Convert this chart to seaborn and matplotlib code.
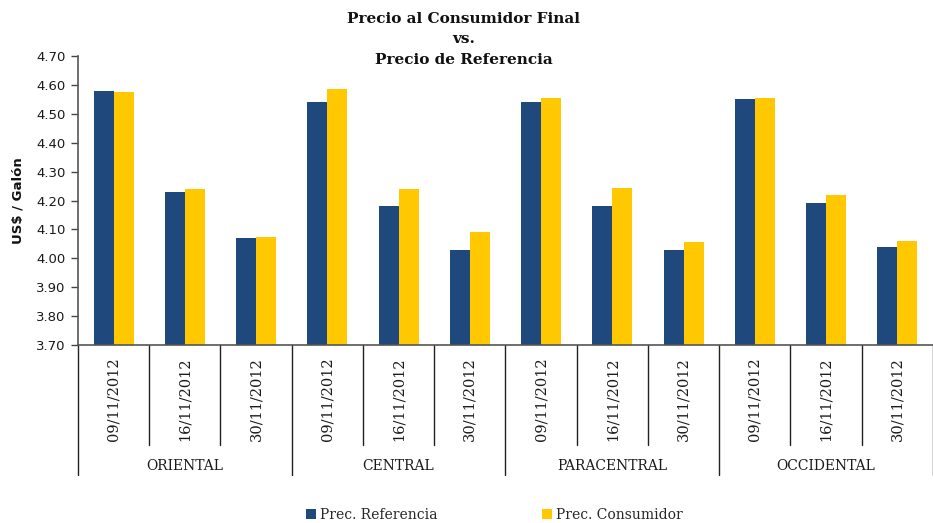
import matplotlib
matplotlib.use("Agg")
import matplotlib.pyplot as plt
import matplotlib.transforms as mtransforms
from matplotlib.patches import Patch
import seaborn as sns
import pandas as pd

regions = ["ORIENTAL", "CENTRAL", "PARACENTRAL", "OCCIDENTAL"]
dates = ["09/11/2012", "16/11/2012", "30/11/2012"]
prec_referencia = [4.58, 4.23, 4.07, 4.54, 4.18, 4.03, 4.54, 4.18, 4.03, 4.55, 4.19, 4.04]
prec_consumidor = [4.575, 4.24, 4.075, 4.585, 4.24, 4.09, 4.555, 4.245, 4.055, 4.555, 4.22, 4.06]
series = ["Prec. Referencia", "Prec. Consumidor"]
colors = ["#1F497D", "#FFC800"]

keys = [f"{r}|{d}" for r in regions for d in dates]
df = pd.DataFrame({
    "key": keys * 2,
    "valor": prec_referencia + prec_consumidor,
    "serie": [series[0]] * len(keys) + [series[1]] * len(keys),
})

sns.set_style("white")
plt.rcParams["font.family"] = ["DejaVu Sans"]

fig = plt.figure(figsize=(9.33, 5.23), dpi=100)
ax = fig.add_axes([0.0836, 0.3403, 0.9164, 0.5526])

sns.barplot(data=df, x="key", y="valor", hue="serie", order=keys,
            hue_order=series, palette=colors, width=0.56, ax=ax,
            legend=False, saturation=1, edgecolor="none")

ax.set_ylim(3.70, 4.70)
ax.set_xlim(-0.5, len(keys) - 0.5)
yt = [3.70 + 0.1 * i for i in range(11)]
ax.set_yticks(yt)
ax.set_yticklabels([f"{v:.2f}" for v in yt], fontsize=9.5, color="#1a1a1a")
ax.tick_params(axis="y", direction="out", length=5, width=1, color="#444444", pad=4, left=True)
ax.set_xticks([])
ax.set_xlabel("")
ax.set_ylabel("US$ / Galón", fontsize=9.5, fontweight="bold", labelpad=8, color="#111111")

for s in ["top", "right"]:
    ax.spines[s].set_visible(False)
for s in ["left", "bottom"]:
    ax.spines[s].set_color("#555555")
    ax.spines[s].set_linewidth(1.2)

trans = mtransforms.blended_transform_factory(ax.transData, ax.transAxes)
for i in range(len(keys) + 1):
    x = i - 0.5
    low = -0.45 if i % 3 == 0 else -0.346
    ax.plot([x, x], [0, low], transform=trans, color="#222222", lw=1, clip_on=False)

for i, k in enumerate(keys):
    ax.text(i, -0.187, k.split("|")[1], transform=trans, rotation=90,
            ha="center", va="center", fontsize=10.5, family="DejaVu Serif",
            color="#1a1a1a")

for j, r in enumerate(regions):
    ax.text(3 * j + 1, -0.419, r, transform=trans, ha="center", va="center",
            fontsize=10, family="DejaVu Serif", color="#1a1a1a")

fig.text(0.497, 0.978, "Precio al Consumidor Final\nvs.\nPrecio de Referencia",
         ha="center", va="top", fontsize=11, fontweight="bold",
         family="DejaVu Serif", linespacing=1.6, color="#111111")

handles = [Patch(facecolor=c, edgecolor="none") for c in colors]
fig.legend(handles, series, loc="center", bbox_to_anchor=(0.53, 0.015),
           ncol=2, frameon=False, handlelength=0.7, handleheight=0.7,
           handletextpad=0.3, columnspacing=7.5,
           prop={"family": "DejaVu Serif", "size": 10})

fig.savefig("out.png", dpi=100)
